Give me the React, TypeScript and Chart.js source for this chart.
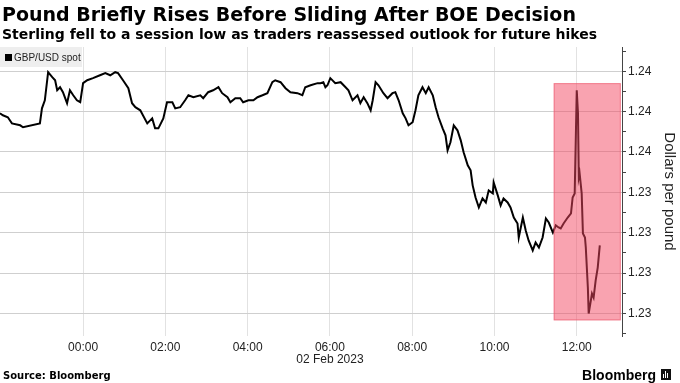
import React, { useEffect, useRef } from "react";
import { Chart, registerables } from "chart.js";

Chart.register(...registerables);

// Hours relative to 00:00 on 02 Feb 2023
const hours = [
  -2.02, -1.95, -1.83, -1.73, -1.53, -1.46, -1.05, -1.0, -0.93, -0.85, -0.75, -0.68, -0.63, -0.56, -0.49,
  -0.39, -0.32, -0.24, -0.15, -0.07, 0.0, 0.1, 0.24, 0.41, 0.54, 0.66, 0.78, 0.85, 0.97, 1.1,
  1.19, 1.27, 1.39, 1.56, 1.68, 1.75, 1.83, 1.95, 2.04, 2.17, 2.24, 2.36, 2.48, 2.56, 2.68,
  2.85, 2.92, 3.04, 3.16, 3.29, 3.38, 3.51, 3.58, 3.7, 3.82, 3.89, 4.02, 4.14, 4.24, 4.36,
  4.48, 4.6, 4.67, 4.8, 4.92, 5.04, 5.21, 5.33, 5.4, 5.53, 5.7, 5.77, 5.84, 5.89, 5.94,
  6.01, 6.13, 6.26, 6.38, 6.45, 6.55, 6.67, 6.74, 6.82, 6.91, 6.99, 7.04, 7.11, 7.18, 7.3,
  7.4, 7.52, 7.59, 7.67, 7.77, 7.84, 7.91, 8.01, 8.08, 8.15, 8.25, 8.33, 8.4, 8.5, 8.57,
  8.64, 8.74, 8.81, 8.86, 8.93, 9.01, 9.1, 9.18, 9.25, 9.35, 9.42, 9.47, 9.54, 9.62, 9.71,
  9.79, 9.86, 9.96, 9.98, 10.08, 10.15, 10.22, 10.32, 10.39, 10.47, 10.56, 10.59, 10.69, 10.76, 10.83,
  10.93, 11.0, 11.08, 11.17, 11.25, 11.32, 11.42, 11.49, 11.56, 11.61, 11.68, 11.78, 11.86, 11.9, 11.95,
  12.0, 12.03, 12.05, 12.07, 12.12, 12.15, 12.2, 12.22, 12.27, 12.29, 12.37, 12.41, 12.46, 12.51, 12.56,
];

// GBP/USD spot
const spot = [
  1.23989, 1.23977, 1.23965, 1.23927, 1.23915, 1.23903, 1.23927, 1.2402, 1.2407, 1.24244, 1.24213, 1.24194, 1.24132, 1.24151, 1.2412,
  1.24052, 1.24132, 1.24101, 1.2407, 1.24058, 1.24176, 1.24194, 1.24207, 1.24225, 1.24238, 1.24225, 1.24244, 1.24238, 1.24194, 1.24145,
  1.24052, 1.24027, 1.24008, 1.23927, 1.23958, 1.23896, 1.23896, 1.23958, 1.24058, 1.24058, 1.2402, 1.24027, 1.2407, 1.24101, 1.24089,
  1.24101, 1.24083, 1.2412, 1.24132, 1.24151, 1.24114, 1.24089, 1.24058, 1.24083, 1.24083, 1.24058, 1.2407, 1.2407, 1.24089, 1.24101,
  1.24114, 1.24182, 1.24194, 1.24182, 1.24145, 1.2412, 1.24114, 1.24101, 1.24151, 1.24163, 1.24176, 1.24176, 1.24182, 1.24151, 1.24163,
  1.24207, 1.24176, 1.24182, 1.24151, 1.24132, 1.2407, 1.24101, 1.24052, 1.24089, 1.24052, 1.24008, 1.2407, 1.24182, 1.24163, 1.24114,
  1.24083, 1.24114, 1.2412, 1.2407, 1.23989, 1.23958, 1.23915, 1.23934, 1.24008, 1.24101, 1.24151, 1.24114, 1.24151, 1.24101, 1.24027,
  1.23965, 1.23896, 1.23853, 1.2376, 1.2381, 1.23915, 1.23884, 1.23822, 1.23748, 1.23667, 1.23636, 1.23543, 1.23468, 1.23406, 1.23462,
  1.23437, 1.23512, 1.23493, 1.23561, 1.23481, 1.23419, 1.23462, 1.23437, 1.23406, 1.23344, 1.23307, 1.2322, 1.23344, 1.23264, 1.23202,
  1.2314, 1.23189, 1.23158, 1.2322, 1.23338, 1.23313, 1.23251, 1.23295, 1.23282, 1.23276, 1.23307, 1.23344, 1.23369, 1.23468, 1.23493,
  1.24132, 1.23989, 1.23592, 1.23617, 1.23493, 1.23245, 1.2322, 1.23158, 1.2291, 1.22749, 1.22873, 1.22848, 1.22954, 1.23034, 1.23171,
];

const xTickHours = [0, 2, 4, 6, 8, 10, 12];
const xTickLabels = ["00:00", "02:00", "04:00", "06:00", "08:00", "10:00", "12:00"];
const dateLabel = "02 Feb 2023";
const dateLabelHour = 6;

const yTickValues = [1.2425, 1.24, 1.2375, 1.235, 1.2325, 1.23, 1.2275];
const yTickLabels = ["1.24", "1.24", "1.24", "1.23", "1.23", "1.23", "1.23"];
const yMinorValues = [1.24375, 1.24125, 1.23875, 1.23625, 1.23375, 1.23125, 1.22875, 1.22625];

const highlightHours = [11.44, 13.07];
const highlightValues = [1.22707, 1.24176];

const titleText = "Pound Briefly Rises Before Sliding After BOE Decision";
const subtitleText = "Sterling fell to a session low as traders reassessed outlook for future hikes";
const seriesLabel = "GBP/USD spot";
const yAxisTitle = "Dollars per pound";
const sourceText = "Source: Bloomberg";
const brandText = "Bloomberg";

const isMajor = (v: number) => yTickValues.some((m) => Math.abs(m - v) < 1e-7);

const decorPlugin = {
  id: "decor",
  afterDatasetsDraw(chart: any) {
    const { ctx, scales } = chart;
    const x = scales.x;
    const y = scales.y;
    const x0 = x.getPixelForValue(highlightHours[0]);
    const x1 = x.getPixelForValue(highlightHours[1]);
    const y0 = y.getPixelForValue(highlightValues[1]);
    const y1 = y.getPixelForValue(highlightValues[0]);
    ctx.save();
    ctx.fillStyle = "rgba(243, 72, 98, 0.5)";
    ctx.fillRect(x0, y0, x1 - x0, y1 - y0);
    ctx.strokeStyle = "rgba(235, 90, 110, 0.6)";
    ctx.lineWidth = 1;
    ctx.strokeRect(x0 + 0.5, y0 + 0.5, x1 - x0 - 1, y1 - y0 - 1);
    ctx.restore();
  },
  afterDraw(chart: any) {
    const { ctx, scales, chartArea } = chart;
    ctx.save();
    // Titles
    ctx.fillStyle = "#000";
    ctx.textBaseline = "alphabetic";
    ctx.textAlign = "left";
    ctx.font = "bold 19px 'DejaVu Sans', sans-serif";
    ctx.fillText(titleText, 2, 21);
    ctx.font = "bold 14px 'DejaVu Sans', sans-serif";
    ctx.fillText(subtitleText, 2, 39);

    // Legend box
    ctx.fillStyle = "#eeeeee";
    ctx.fillRect(chartArea.left, chartArea.top, 82, 20);
    ctx.fillStyle = "#000";
    ctx.fillRect(5, chartArea.top + 7, 7, 7);
    ctx.fillStyle = "#222";
    ctx.font = "10px 'Liberation Sans', Arial, sans-serif";
    ctx.textBaseline = "middle";
    ctx.fillText(seriesLabel, 14, chartArea.top + 11);

    // Date label under x axis
    ctx.fillStyle = "#222";
    ctx.font = "12px 'Liberation Sans', Arial, sans-serif";
    ctx.textAlign = "center";
    ctx.textBaseline = "middle";
    ctx.fillText(dateLabel, scales.x.getPixelForValue(dateLabelHour), 360);

    // Footer
    ctx.textAlign = "left";
    ctx.textBaseline = "alphabetic";
    ctx.fillStyle = "#000";
    ctx.font = "bold 10px 'DejaVu Sans', sans-serif";
    ctx.fillText(sourceText, 3, 379);
    ctx.textAlign = "right";
    ctx.font = "bold 14px 'Liberation Sans', Arial, sans-serif";
    ctx.fillText(brandText, 656, 380);
    // small logo
    ctx.fillStyle = "#111";
    ctx.fillRect(661, 369, 10, 11);
    ctx.fillStyle = "#fff";
    ctx.fillRect(663, 374, 1, 4);
    ctx.fillRect(665, 371, 1, 7);
    ctx.fillRect(667, 373, 1, 5);
    ctx.restore();
  },
};

function ChartView() {
  const ref = useRef<HTMLCanvasElement | null>(null);
  useEffect(() => {
    if (!ref.current) return;
    const allY = [...yTickValues, ...yMinorValues].sort((a, b) => a - b);
    const chart = new Chart(ref.current, {
      type: "line",
      data: {
        datasets: [
          {
            label: seriesLabel,
            data: hours.map((h, i) => ({ x: h, y: spot[i] })),
            borderColor: "#000",
            borderWidth: 2,
            pointRadius: 0,
            tension: 0,
            fill: false,
          },
        ],
      },
      options: {
        animation: false,
        responsive: false,
        maintainAspectRatio: false,
        layout: { padding: { top: 47, left: 0, right: 0, bottom: 0 } },
        plugins: {
          legend: { display: false },
          tooltip: { enabled: false },
          title: { display: false },
        },
        scales: {
          x: {
            type: "linear",
            min: -2.02,
            max: 13.1,
            afterBuildTicks: (s: any) => {
              s.ticks = xTickHours.map((v) => ({ value: v }));
            },
            afterFit: (s: any) => {
              s.height = 47;
            },
            ticks: {
              autoSkip: false,
              maxRotation: 0,
              padding: 4,
              color: "#222",
              font: { size: 12, family: "'Liberation Sans', Arial, sans-serif" },
              callback: (v: any) => {
                const i = xTickHours.indexOf(Number(v));
                return i >= 0 ? xTickLabels[i] : "";
              },
            },
            grid: { color: "#e2e2e2", lineWidth: 1, drawTicks: false },
            border: { display: false },
          },
          y: {
            type: "linear",
            position: "right",
            min: 1.2261,
            max: 1.244,
            afterBuildTicks: (s: any) => {
              s.ticks = allY.map((v) => ({ value: v }));
            },
            afterFit: (s: any) => {
              s.width = 58;
            },
            ticks: {
              autoSkip: false,
              padding: 2,
              color: "#222",
              font: { size: 12, family: "'Liberation Sans', Arial, sans-serif" },
              callback: (v: any) => {
                const i = yTickValues.findIndex((m) => Math.abs(m - Number(v)) < 1e-7);
                return i >= 0 ? yTickLabels[i] : "";
              },
            },
            grid: {
              color: (c: any) => (c.tick && isMajor(c.tick.value) ? "#cfcfcf" : "rgba(0,0,0,0)"),
              borderDash: [1, 2],
              tickColor: "#444",
              tickLength: 4,
              tickBorderDash: [],
            } as any,
            border: { display: true, color: "#444", width: 1 },
            title: {
              display: true,
              text: yAxisTitle,
              color: "#222",
              font: { size: 15, family: "'Liberation Sans', Arial, sans-serif" },
              padding: { top: 2, bottom: 2 },
            },
          },
        },
      },
      plugins: [decorPlugin],
    } as any);
    return () => chart.destroy();
  }, []);
  return <canvas ref={ref} width={680} height={383} style={{ display: "block" }} />;
}

export default function App() {
  return (
    <div style={{ position: "fixed", left: 0, top: 0, width: 680, height: 383, background: "#fff" }}>
      <ChartView />
    </div>
  );
}
